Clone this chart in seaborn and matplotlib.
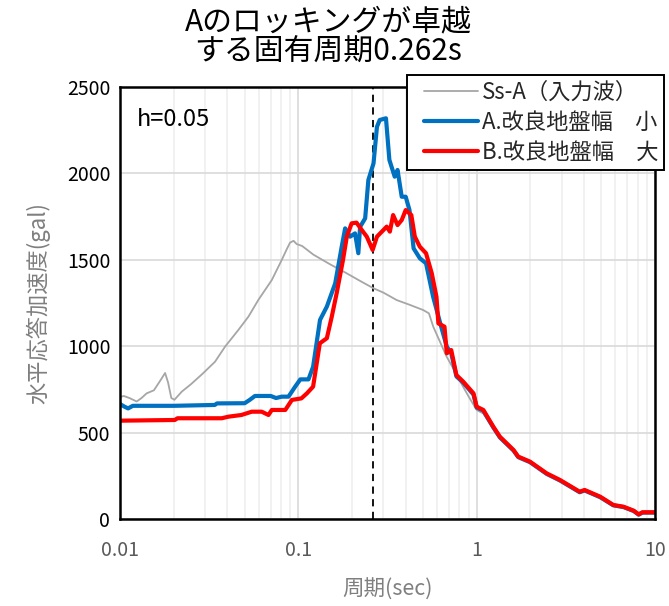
import numpy as np
import pandas as pd
import seaborn as sns
import matplotlib
matplotlib.use("Agg")
import matplotlib.pyplot as plt
from matplotlib.ticker import LogLocator, FixedLocator, FixedFormatter
from matplotlib.lines import Line2D
from matplotlib.legend_handler import HandlerLine2D

# ---- data ----
period_ss = [0.010, 0.0105, 0.0113, 0.0124, 0.0132, 0.0141, 0.0155, 0.0168, 0.0179, 0.0186,
             0.0194, 0.0202, 0.0222, 0.025, 0.029, 0.0341, 0.0388, 0.0461, 0.0525, 0.0596,
             0.0710, 0.0807, 0.0860, 0.0898, 0.0940, 0.0979, 0.105, 0.1214, 0.150, 0.1866,
             0.220, 0.264, 0.300, 0.356, 0.420, 0.502, 0.540, 0.571, 0.620, 0.679,
             0.74, 0.80, 0.90, 1.0, 1.09, 1.24, 1.35, 1.61, 1.71, 1.99,
             2.47, 2.93, 3.78, 4.03, 4.93, 5.84, 6.66, 7.6, 8.1, 8.5, 10.0]
acc_ss = [706, 712, 700, 680, 700, 727, 745, 800, 845, 790,
          700, 690, 737, 780, 840, 910, 997, 1094, 1171, 1267,
          1383, 1499, 1560, 1599, 1610, 1591, 1580, 1530, 1475, 1422,
          1380, 1335, 1310, 1267, 1240, 1209, 1190, 1113, 1030, 939,
          870, 804, 710, 631, 610, 520, 465, 392, 355, 325,
          258, 220, 152, 162, 124, 77, 67, 44, 24, 35, 35]

period_a = [0.010, 0.0106, 0.0111, 0.0118, 0.020, 0.034, 0.035, 0.050, 0.0535, 0.0571,
            0.070, 0.075, 0.0807, 0.0881, 0.096, 0.1026, 0.114, 0.121, 0.1323, 0.1445,
            0.161, 0.1751, 0.183, 0.195, 0.208, 0.217, 0.222, 0.237, 0.247, 0.264,
            0.276, 0.286, 0.310, 0.324, 0.347, 0.360, 0.380, 0.400, 0.420, 0.443,
            0.480, 0.520, 0.570, 0.625, 0.680, 0.72, 0.77, 0.84, 0.96, 1.0,
            1.09, 1.24, 1.35, 1.61, 1.71, 1.99, 2.47, 2.93, 3.78, 4.03,
            4.93, 5.84, 6.66, 7.6, 8.1, 8.5, 10.0]
acc_a = [665, 650, 640, 655, 655, 660, 669, 670, 690, 712,
         712, 700, 708, 708, 766, 808, 808, 881, 1152, 1229,
         1364, 1576, 1682, 1634, 1653, 1538, 1691, 1740, 1962, 2058,
         2270, 2309, 2319, 2078, 1981, 2020, 1865, 1865, 1788, 1566,
         1509, 1480, 1286, 1132, 997, 960, 825, 790, 720, 645,
         627, 530, 472, 396, 358, 329, 261, 223, 155, 165,
         126, 79, 69, 46, 25, 37, 37]

period_b = [0.010, 0.0203, 0.0210, 0.0372, 0.0405, 0.048, 0.0548, 0.0623, 0.068, 0.071,
            0.0845, 0.092, 0.104, 0.1117, 0.121, 0.132, 0.1445, 0.154, 0.164, 0.178,
            0.187, 0.199, 0.212, 0.227, 0.242, 0.261, 0.276, 0.294, 0.313, 0.326,
            0.340, 0.360, 0.380, 0.400, 0.430, 0.450, 0.480, 0.520, 0.560, 0.595,
            0.61, 0.66, 0.68, 0.72, 0.77, 0.84, 0.96, 1.0, 1.09, 1.24,
            1.35, 1.61, 1.71, 1.99, 2.47, 2.93, 3.78, 4.03, 4.93, 5.84,
            6.66, 7.6, 8.1, 8.5, 10.0]
acc_b = [569, 573, 583, 583, 592, 602, 621, 621, 602, 631,
         631, 689, 698, 727, 766, 1017, 1046, 1171, 1306, 1499,
         1634, 1711, 1715, 1672, 1634, 1557, 1634, 1663, 1692, 1663,
         1759, 1701, 1730, 1788, 1759, 1634, 1576, 1538, 1422, 1286,
         1132, 1113, 959, 978, 833, 795, 727, 650, 631, 534,
         476, 399, 361, 332, 264, 226, 158, 168, 129, 81,
         71, 48, 27, 39, 39]

labels = ["Ss-A（入力波）", "A.改良地盤幅　小", "B.改良地盤幅　大"]
colors = ["#A6A6A6", "#0070C0", "#FF0000"]
widths = [1.3, 3.0, 3.0]
target_period = 0.262

x_ticks = [0.01, 0.1, 1, 10]
x_ticklabels = ["0.01", "0.1", "1", "10"]
y_ticks = [0, 500, 1000, 1500, 2000, 2500]

title = "Aのロッキングが卓越\nする固有周期0.262s"
xlabel = "周期(sec)"
ylabel = "水平応答加速度(gal)"
note = "h=0.05"

# ---- plotting ----
sns.set_style("white")
plt.rcParams['font.family'] = ['Noto Sans CJK JP', 'DejaVu Sans']

fig = plt.figure(figsize=(6.69, 6.06), dpi=100)
ax = fig.add_axes([120/669, 1-519/606, 535/669, 432/606])

series = [(period_ss, acc_ss), (period_a, acc_a), (period_b, acc_b)]
for (px, py), lab, col, lw in zip(series, labels, colors, widths):
    df = pd.DataFrame({"period": px, "acc": py})
    sns.lineplot(data=df, x="period", y="acc", ax=ax, color=col, lw=lw,
                 label=lab, estimator=None, sort=False, legend=False)

ax.axvline(target_period, color="black", lw=1.3, ls=(0, (4, 3)), zorder=1.5)

ax.set_xscale("log")
ax.set_xlim(0.01, 10)
ax.set_ylim(0, 2500)
ax.xaxis.set_major_locator(FixedLocator(x_ticks))
ax.xaxis.set_major_formatter(FixedFormatter(x_ticklabels))
ax.xaxis.set_minor_locator(LogLocator(base=10, subs=np.arange(2, 10), numticks=20))
ax.set_yticks(y_ticks)

ax.grid(which="major", axis="both", color="#D9D9D9", lw=1.2)
ax.grid(which="minor", axis="x", color="#EFEFEF", lw=1.2)
ax.set_axisbelow(True)
ax.tick_params(which="both", length=0)
ax.tick_params(axis="x", labelsize=14, labelcolor="#595959", pad=15)
ax.tick_params(axis="y", labelsize=14, labelcolor="black", pad=7)
for s in ax.spines.values():
    s.set_color("black")
    s.set_linewidth(1.8)

ax.set_xlabel(xlabel, fontsize=15.5, color="#7F7F7F", labelpad=13)
ax.set_ylabel(ylabel, fontsize=16, color="#7F7F7F", labelpad=12)

ax.text(0.032, 0.924, note, transform=ax.transAxes, fontsize=17,
        va="center", ha="left", color="black")

fig.text(328/669, 1-37/606, title, fontsize=21.5, ha="center", va="center",
         linespacing=0.98, color="black")

handles, labs = ax.get_legend_handles_labels()
leg = fig.legend(handles, labs, loc="upper left", bbox_to_anchor=(407/669, 1-75/606),
                 fontsize=16, frameon=True, fancybox=False, framealpha=1,
                 edgecolor="black", handlelength=2.9, handletextpad=0.18,
                 labelspacing=0.3, borderpad=0.28, borderaxespad=0,
                 handler_map={Line2D: HandlerLine2D(xpad=0.5)})
leg.get_frame().set_linewidth(1.4)
leg.set_zorder(10)

fig.savefig("out.png", dpi=100)
